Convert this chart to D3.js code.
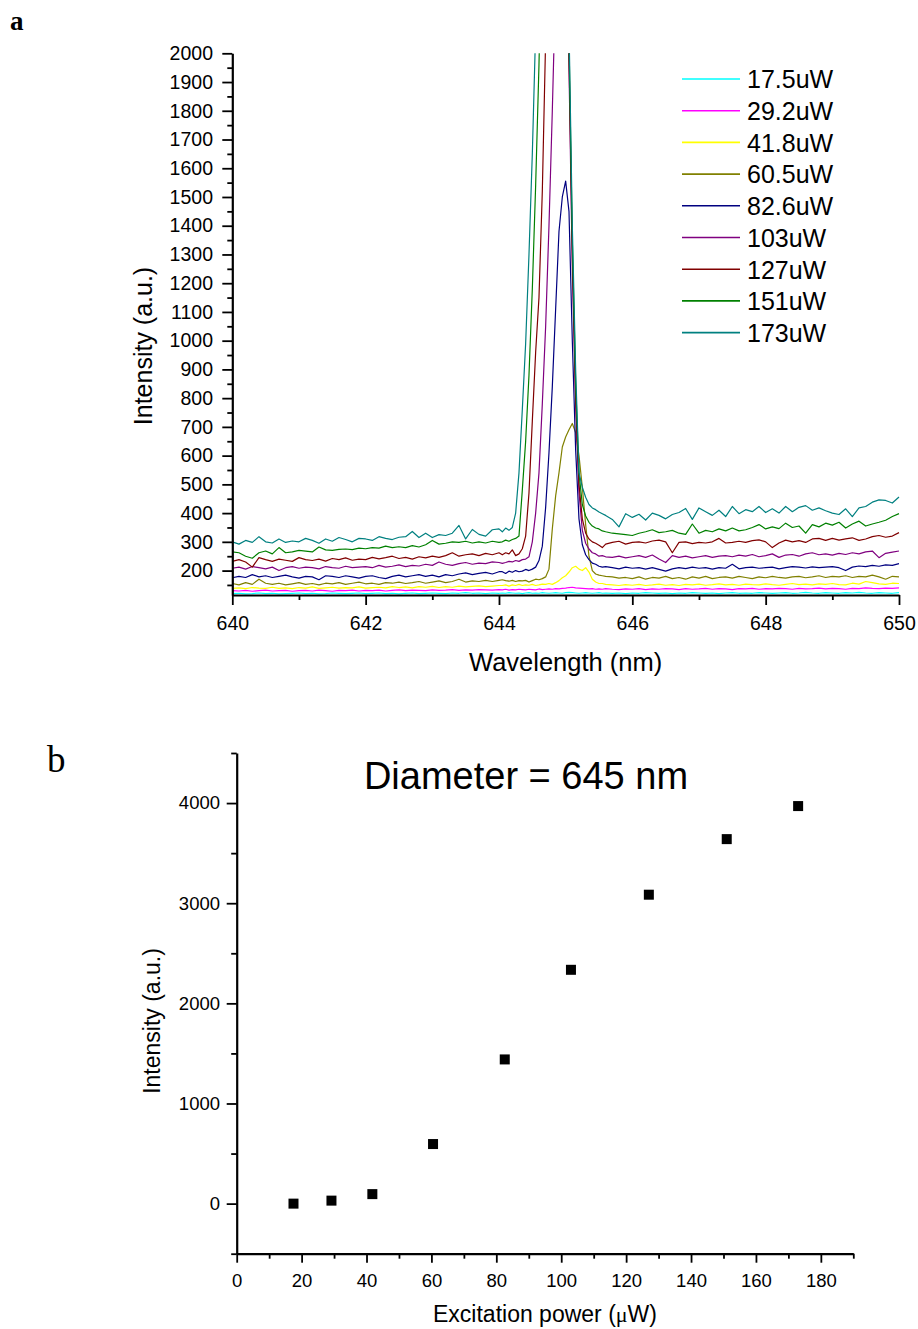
<!DOCTYPE html>
<html><head><meta charset="utf-8">
<script src="https://cdn.jsdelivr.net/npm/d3@7"></script>
<style>
body{margin:0;background:#fff}
svg{display:block}
</style>
</head><body>
<svg id="c" width="918" height="1329"></svg>
<script>
// ---------- Panel a data ----------
const wavelength = [
640.0,640.1,640.2,640.3,640.4,640.5,640.6,640.7,640.8,640.9,
641.0,641.1,641.2,641.3,641.4,641.5,641.6,641.7,641.8,641.9,
642.0,642.1,642.2,642.3,642.4,642.5,642.6,642.7,642.8,642.9,
643.0,643.1,643.2,643.3,643.4,643.5,643.6,643.7,643.8,643.9,
644.0,
644.05,644.1,644.15,644.2,644.25,644.3,644.35,644.4,644.45,644.5,
644.55,644.6,644.65,644.7,644.75,644.8,644.85,644.9,644.95,645.0,
645.05,645.1,645.15,645.2,645.25,645.3,645.35,645.4,645.45,645.5,
645.55,645.6,
645.7,645.8,645.9,
646.0,646.1,646.2,646.3,646.4,646.5,646.6,646.7,646.8,646.9,
647.0,647.1,647.2,647.3,647.4,647.5,647.6,647.7,647.8,647.9,
648.0,648.1,648.2,648.3,648.4,648.5,648.6,648.7,648.8,648.9,
649.0,649.1,649.2,649.3,649.4,649.5,649.6,649.7,649.8,649.9,
650.0];

const p17_5 = [
120,121,119,120,122,120,121,119,120,121,
122,120,121,119,120,122,121,120,121,122,
120,121,122,120,121,119,121,122,120,121,
122,121,120,122,121,123,121,122,120,122,
121,
122,121,123,122,121,122,120,122,123,121,
122,121,123,122,121,122,123,122,121,123,
124,123,122,121,122,123,122,121,122,123,
121,122,
121,122,120,
122,121,123,122,121,122,120,122,121,123,
122,121,122,120,122,123,121,122,121,123,
122,121,122,123,121,122,124,122,121,123,
122,121,123,122,124,122,121,123,122,121,
123];

const p29_2 = [
130,129,131,128,130,132,129,130,131,128,
130,131,129,132,130,128,131,130,132,129,
131,130,132,129,131,133,130,132,131,130,
133,131,132,134,131,133,132,134,133,132,
134,
133,135,132,134,133,135,134,133,135,134,
133,136,134,135,136,135,137,136,138,139,
141,142,140,139,138,137,136,137,135,136,
135,137,
135,134,136,
135,137,134,136,135,137,136,134,137,135,
136,138,135,137,136,134,137,136,138,135,
137,136,138,137,135,138,136,137,139,136,
138,137,135,138,137,140,138,137,139,138,
140];

const p41_8 = [
138,140,137,141,139,138,142,138,140,137,
141,139,143,138,140,142,139,141,140,143,
139,141,142,140,144,141,143,140,144,142,
145,141,144,142,146,143,145,147,144,146,
148,
148,150,146,150,148,152,148,150,149,152,
148,150,153,152,155,152,158,165,175,182,
195,210,215,205,200,210,195,170,160,155,
155,152,
150,148,151,
149,152,148,150,153,149,151,148,152,150,
153,149,151,154,150,152,149,153,151,150,
154,151,149,152,155,151,153,150,154,152,
155,151,150,156,153,162,158,154,152,156,
155];

const p60_5 = [
155,150,158,152,170,156,152,156,150,154,
158,152,155,150,156,154,158,152,156,160,
154,156,152,158,156,160,155,158,162,156,
160,164,158,162,170,160,164,162,166,162,
166,
168,165,163,166,162,165,164,166,160,165,
170,168,172,178,205,345,460,540,630,665,
690,712,680,600,490,360,250,200,188,184,
182,180,
178,174,176,
172,178,170,176,174,180,172,176,170,178,
174,180,172,176,178,174,180,176,172,178,
175,180,176,174,178,180,175,178,182,176,
180,178,182,176,180,178,184,178,170,180,
178];

const p82_6 = [
175,180,176,186,178,182,176,180,184,178,
174,180,178,168,182,180,176,182,178,174,
180,182,176,172,180,184,178,182,186,180,
184,178,186,182,188,192,186,190,194,188,
196,
196,190,198,194,200,196,198,204,200,205,
212,235,285,420,610,840,1110,1380,1500,1555,
1450,1000,620,380,290,255,238,226,222,215,
212,214,
210,206,212,
208,210,205,210,204,198,206,210,207,212,
208,210,205,210,208,222,206,210,212,208,
210,212,206,210,214,212,209,213,210,212,
214,210,200,212,216,214,218,215,220,218,
224];

const p103 = [
208,212,205,214,210,206,212,200,210,214,
208,212,210,206,214,210,208,215,210,212,
214,210,218,212,215,220,214,218,216,222,
218,230,222,218,224,228,222,226,224,230,
228,
225,228,232,230,235,232,238,240,248,300,
400,540,780,1050,1400,1800,2250,2700,3000,2800,
1950,1250,780,470,340,295,275,262,258,250,
252,248,
246,250,244,
248,252,246,254,240,228,252,246,250,244,
248,252,246,250,252,248,254,250,256,248,
252,258,246,254,256,250,258,262,255,258,
254,260,256,262,258,265,268,245,260,264,
268];

const p127 = [
232,238,230,212,245,238,232,240,236,232,
245,238,235,240,233,242,238,244,236,240,
238,246,241,245,250,242,246,240,248,244,
250,246,252,262,250,255,258,252,260,255,
262,
255,262,258,272,252,258,276,320,470,720,
960,1150,1520,2050,2600,3100,3500,3700,3700,3300,
2000,1300,800,500,380,330,310,300,295,288,
280,292,
298,302,292,
298,300,296,303,306,300,262,298,300,294,
298,296,300,312,296,298,302,298,304,307,
300,280,296,306,300,304,298,310,312,305,
312,306,310,314,305,310,318,322,316,320,
332];

const p151 = [
265,262,250,243,262,268,258,280,262,265,
270,268,265,282,272,270,274,275,273,278,
276,280,278,285,280,283,280,287,282,290,
305,292,295,300,298,302,296,300,296,302,
298,
300,306,302,308,312,320,480,650,880,1180,
1540,1960,2500,3000,3500,3900,4200,4350,4200,3500,
2050,1350,850,540,430,390,368,355,348,345,
338,335,
330,328,325,
322,330,335,342,332,335,340,330,326,362,
330,340,335,345,338,348,338,342,350,360,
345,352,346,365,350,355,330,360,352,365,
358,368,348,362,372,355,362,368,375,388,
398];

const p173 = [
300,292,305,298,318,300,296,310,298,303,
300,312,305,295,310,302,315,308,300,312,
310,305,318,312,308,316,318,336,315,330,
315,325,322,330,357,310,343,326,320,342,
345,
335,348,340,350,400,540,760,990,1300,1650,
2080,2600,3200,3800,4300,4700,5000,5100,4900,3800,
2100,1400,900,540,490,455,430,418,412,404,
398,392,
378,352,398,
385,396,376,400,392,380,395,402,416,378,
418,405,392,410,388,423,398,412,405,423,
402,415,400,423,405,420,426,410,418,408,
400,395,415,388,418,423,438,446,444,435,
456];

const seriesNames = ["17.5uW","29.2uW","41.8uW","60.5uW","82.6uW","103uW","127uW","151uW","173uW"];
const seriesValues = [p17_5,p29_2,p41_8,p60_5,p82_6,p103,p127,p151,p173];
const seriesColors = ["#00FFFF","#FF00FF","#FFFF00","#808000","#000080","#800080","#800000","#008000","#008080"];

const yTicksA = [200,300,400,500,600,700,800,900,1000,1100,1200,1300,1400,1500,1600,1700,1800,1900,2000];
const yMinorA = [150,250,350,450,550,650,750,850,950,1050,1150,1250,1350,1450,1550,1650,1750,1850,1950];
const xTicksA = [640,642,644,646,648,650];
const xMinorA = [641,643,645,647,649];

// ---------- Panel b data ----------
const powerB = [17.5,29.2,41.8,60.5,82.6,103,127,151,173];
const intensityB = [0,30,95,595,1440,2335,3085,3640,3970];
const yTicksB = [0,1000,2000,3000,4000];
const yMinorB = [-500,500,1500,2500,3500,4500];
const xTicksB = [0,20,40,60,80,100,120,140,160,180];
const xMinorB = [10,30,50,70,90,110,130,150,170,190];

const SANS = "'Liberation Sans',Arial,sans-serif";
const SERIF = "'Liberation Serif','Times New Roman',serif";
const fmt = d3.format("d");
const svg = d3.select("#c");

function styleAxis(g, fs){
  g.selectAll(".domain").attr("stroke","#000").attr("stroke-width",2.2);
  g.selectAll(".tick line").attr("stroke","#000").attr("stroke-width",1.8);
  g.selectAll(".tick text").style("font-size",fs+"px").style("font-family",SANS).attr("fill","#000");
}
function txt(sel, fam, size){
  return sel.style("font-family",fam).style("font-size",size+"px").attr("fill","#000");
}

// ================= Panel a =================
const xA = d3.scaleLinear().domain([640,650]).range([232.3,899]);
const yA = d3.scaleLinear().domain([115,2000]).range([595,53.3]);

txt(svg.append("text").attr("x",10).attr("y",30).style("font-weight","bold"),SERIF,27).text("a");

svg.append("defs").append("clipPath").attr("id","clipA")
  .append("rect").attr("x",xA(640)).attr("y",yA(2000)).attr("width",xA(650)-xA(640)+1).attr("height",yA(115)-yA(2000));

const lineA = d3.line().x((d,i)=>xA(wavelength[i])).y(d=>yA(d));
const gLines = svg.append("g").attr("clip-path","url(#clipA)");
seriesValues.forEach((vals,k)=>{
  gLines.append("path").attr("d",lineA(vals)).attr("fill","none")
    .attr("stroke",seriesColors[k]).attr("stroke-width",1.2).attr("stroke-linejoin","round");
});

// axes a
const gyA = svg.append("g").attr("transform",`translate(${xA(640)},0)`)
  .call(d3.axisLeft(yA).tickValues(yTicksA).tickFormat(fmt).tickSize(10).tickSizeOuter(0).tickPadding(9.3));
styleAxis(gyA,19.5);
const gyAm = svg.append("g").attr("transform",`translate(${xA(640)},0)`)
  .call(d3.axisLeft(yA).tickValues(yMinorA).tickSize(5).tickSizeOuter(0).tickFormat(""));
styleAxis(gyAm,19); gyAm.select(".domain").remove();

const gxA = svg.append("g").attr("transform",`translate(0,${yA(115)})`)
  .call(d3.axisBottom(xA).tickValues(xTicksA).tickFormat(fmt).tickSize(10).tickSizeOuter(0).tickPadding(11.5));
styleAxis(gxA,19.5);
const gxAm = svg.append("g").attr("transform",`translate(0,${yA(115)})`)
  .call(d3.axisBottom(xA).tickValues(xMinorA).tickSize(5).tickSizeOuter(0).tickFormat(""));
styleAxis(gxAm,19); gxAm.select(".domain").remove();

txt(svg.append("text").attr("transform",`translate(152,346) rotate(-90)`).attr("text-anchor","middle"),SANS,25)
  .text("Intensity (a.u.)");
txt(svg.append("text").attr("x",(xA(640)+xA(650))/2).attr("y",671).attr("text-anchor","middle"),SANS,25.5)
  .text("Wavelength (nm)");

// legend
const legY0 = 79, legDy = 31.7;
seriesNames.forEach((name,k)=>{
  const y = legY0 + k*legDy;
  svg.append("line").attr("x1",682).attr("x2",740).attr("y1",y).attr("y2",y)
    .attr("stroke",seriesColors[k]).attr("stroke-width",1.6);
  txt(svg.append("text").attr("x",747).attr("y",y+9.3),SANS,25).text(name);
});

// ================= Panel b =================
const xB = d3.scaleLinear().domain([0,190]).range([236.7,853.3]);
const yB = d3.scaleLinear().domain([-500,4500]).range([1253.7,753]);

txt(svg.append("text").attr("x",47).attr("y",772),SERIF,37).text("b");

txt(svg.append("text").attr("x",526).attr("y",789).attr("text-anchor","middle"),SANS,38)
  .text("Diameter = 645 nm");

const gyB = svg.append("g").attr("transform",`translate(${xB(0)},0)`)
  .call(d3.axisLeft(yB).tickValues(yTicksB).tickFormat(fmt).tickSize(10).tickSizeOuter(0).tickPadding(6.7));
styleAxis(gyB,18.5);
const gyBm = svg.append("g").attr("transform",`translate(${xB(0)},0)`)
  .call(d3.axisLeft(yB).tickValues(yMinorB).tickSize(5.5).tickSizeOuter(0).tickFormat(""));
styleAxis(gyBm,18.5); gyBm.select(".domain").remove();

const gxB = svg.append("g").attr("transform",`translate(0,${yB(-500)})`)
  .call(d3.axisBottom(xB).tickValues(xTicksB).tickFormat(fmt).tickSize(9).tickSizeOuter(0).tickPadding(11));
styleAxis(gxB,18.5);
const gxBm = svg.append("g").attr("transform",`translate(0,${yB(-500)})`)
  .call(d3.axisBottom(xB).tickValues(xMinorB).tickSize(5).tickSizeOuter(0).tickFormat(""));
styleAxis(gxBm,18.5); gxBm.select(".domain").remove();

svg.selectAll("rect.pt").data(powerB).enter().append("rect").attr("class","pt")
  .attr("x",(d)=>xB(d)-5).attr("y",(d,i)=>yB(intensityB[i])-5)
  .attr("width",10).attr("height",10).attr("fill","#000");

txt(svg.append("text").attr("transform",`translate(160,1021) rotate(-90)`).attr("text-anchor","middle"),SANS,23)
  .text("Intensity (a.u.)");
const xl = txt(svg.append("text").attr("x",(xB(0)+xB(190))/2).attr("y",1322).attr("text-anchor","middle"),SANS,23);
xl.append("tspan").text("Excitation power (");
xl.append("tspan").style("font-family",SERIF).style("font-size","22px").text("μ");
xl.append("tspan").text("W)");
</script>
</body></html>
